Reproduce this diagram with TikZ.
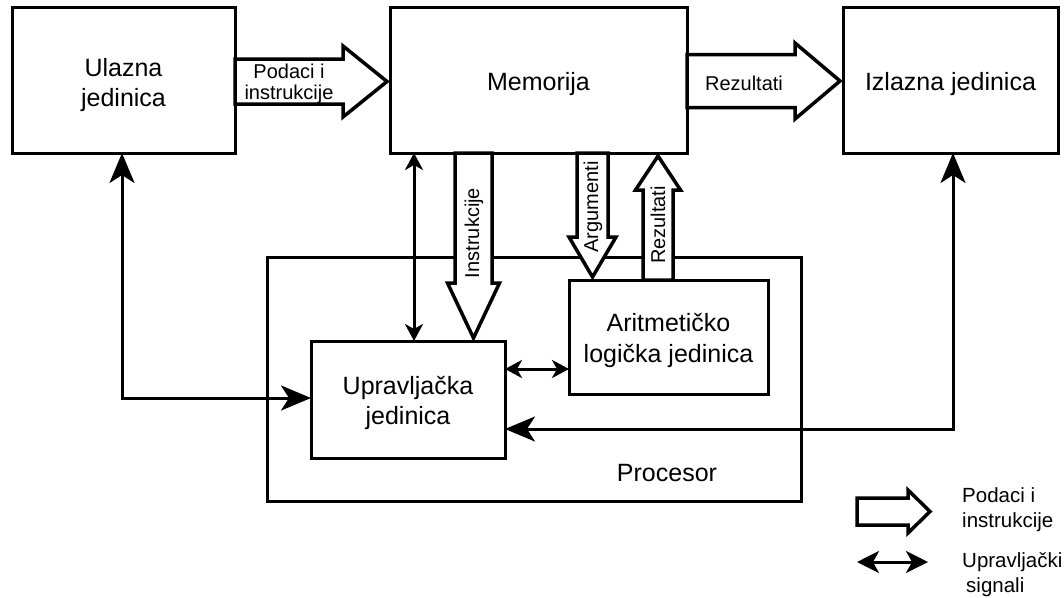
\documentclass[tikz,border=0pt]{standalone}
\usepackage{fontspec}
\setmainfont{Liberation Sans}
\usetikzlibrary{arrows.meta,calc,backgrounds}

% hollow data arrow: tail, tip, shaft half width, head half width, head length
\newcommand\flowarrow[5]{%
  \coordinate (fa-h) at ($(#2)!#5!(#1)$);
  \draw[flow] ($(#1)!#3!90:(#2)$) -- ($(fa-h)!#3!90:(#2)$) -- ($(fa-h)!#4!90:(#2)$) -- (#2)
    -- ($(fa-h)!#4!-90:(#2)$) -- ($(fa-h)!#3!-90:(#2)$) -- ($(#1)!#3!-90:(#2)$) -- cycle;}

\begin{document}
\begin{tikzpicture}[x=1pt,y=-1pt,
    box/.style = {draw, line width=3pt, outer sep=0pt},
    boxtext/.style = {align=center, inner sep=0pt, font=\fontsize{25}{30.5}\selectfont},
    flow/.style = {draw, line width=3.5pt, fill=white, line join=miter},
    flowlabel/.style = {font=\fontsize{20}{21.5}\selectfont, align=center, inner sep=0pt},
    ctrl/.style = {line width=3pt, {Stealth[length=30pt,width=25pt,inset=8pt]}-{Stealth[length=30pt,width=25pt,inset=8pt]}},
    ctrlshort/.style = {line width=3pt, {Stealth[length=17pt,width=18pt,inset=5pt]}-{Stealth[length=17pt,width=18pt,inset=5pt]}},
    ctrllegend/.style = {line width=3pt, {Stealth[length=22pt,width=22pt,inset=6pt]}-{Stealth[length=22pt,width=22pt,inset=6pt]}},
    legendtext/.style = {anchor=west, align=left, inner sep=0pt, font=\fontsize{20.5}{25}\selectfont}]
  \useasboundingbox (0,0) rectangle (1064,597);

  % units
  \node[box, minimum width=223pt, minimum height=146pt] (ul) at (123.5,80) {};
  \node[box, minimum width=297pt, minimum height=146pt] (mem) at (538.5,80) {};
  \node[box, minimum width=215pt, minimum height=146pt] (izl) at (950.5,80) {};
  \node[box, minimum width=194pt, minimum height=117pt] (upr) at (408,399.5) {};
  \node[box, minimum width=199pt, minimum height=114pt] (alu) at (668.5,337) {};
  \node[boxtext] (ul-t) at ($(ul)+(0,5)$) {Ulazna\\jedinica};
  \node[boxtext] (mem-t) at ($(mem)+(0,4)$) {Memorija};
  \node[boxtext] (izl-t) at ($(izl)+(0,4)$) {Izlazna jedinica};
  \node[boxtext] (upr-t) at ($(upr)+(0,3.5)$) {Upravljačka\\jedinica};
  \node[boxtext] (alu-t) at ($(alu)+(0,3.5)$) {Aritmetičko\\logička jedinica};

  \begin{scope}[on background layer]
    \node[box, minimum width=534pt, minimum height=244pt] (proc) at (534,379) {};
    % data paths
    \coordinate (pi-a) at (ul.east |- 0,81.5);
    \coordinate (pi-b) at ($(mem.west |- 0,81.5)+(-3,0)$);
    \flowarrow{pi-a}{pi-b}{22.5pt}{35.5pt}{44pt}
    \coordinate (rz-a) at (mem.east |- 0,81);
    \coordinate (rz-b) at ($(izl.west |- 0,81)+(-3,0)$);
    \flowarrow{rz-a}{rz-b}{26.5pt}{38pt}{45pt}
    \coordinate (ins-a) at (mem.south -| 473.5,0);
    \coordinate (ins-b) at ($(upr.north -| 473.5,0)+(0,-3)$);
    \flowarrow{ins-a}{ins-b}{18.5pt}{26pt}{55pt}
    \coordinate (arg-a) at (mem.south -| 592.5,0);
    \coordinate (arg-b) at ($(alu.north -| 592.5,0)+(0,-3)$);
    \flowarrow{arg-a}{arg-b}{15.5pt}{23.5pt}{40pt}
    \coordinate (rzu-a) at (alu.north -| 658,0);
    \coordinate (rzu-b) at ($(mem.south -| 658,0)+(0,3)$);
    \flowarrow{rzu-a}{rzu-b}{15pt}{22.5pt}{34pt}
    % legend
    \coordinate (lg1-a) at (857,511.5);
    \coordinate (lg1-b) at (930,511.5);
    \flowarrow{lg1-a}{lg1-b}{13.5pt}{21.5pt}{22pt}
  \end{scope}

  \node[flowlabel] (pi-t) at (289,84) {Podaci i\\instrukcije};
  \node[flowlabel] (rz-t) at (744,83) {Rezultati};
  \node[flowlabel, rotate=90] (ins-t) at (474,233) {Instrukcije};
  \node[flowlabel, rotate=90] (arg-t) at (593,207) {Argumenti};
  \node[flowlabel, rotate=90] (rzu-t) at (658,225) {Rezultati};
  \node[boxtext] (proc-t) at (667,473) {Procesor};

  % control signals
  \draw[ctrl] (ul.south -| 122,0) |- (upr.west |- 0,398);
  \draw[ctrl] (izl.south -| 953,0) |- (upr.east |- 0,429);
  \draw[ctrlshort] (mem.south -| 414,0) -- (upr.north -| 414,0);
  \draw[ctrlshort] (upr.east |- 0,369) -- (alu.west |- 0,369);

  % legend
  \coordinate (lg2-a) at (857,562);
  \coordinate (lg2-b) at (928,562);
  \draw[ctrllegend] (lg2-a) -- (lg2-b);
  \node[legendtext] (lg1-t) at (962,510) {Podaci i\\instrukcije};
  \node[legendtext] (lg2-t) at (962,575) {Upravljački\\\hspace{4pt}signali};
\end{tikzpicture}
\end{document}
